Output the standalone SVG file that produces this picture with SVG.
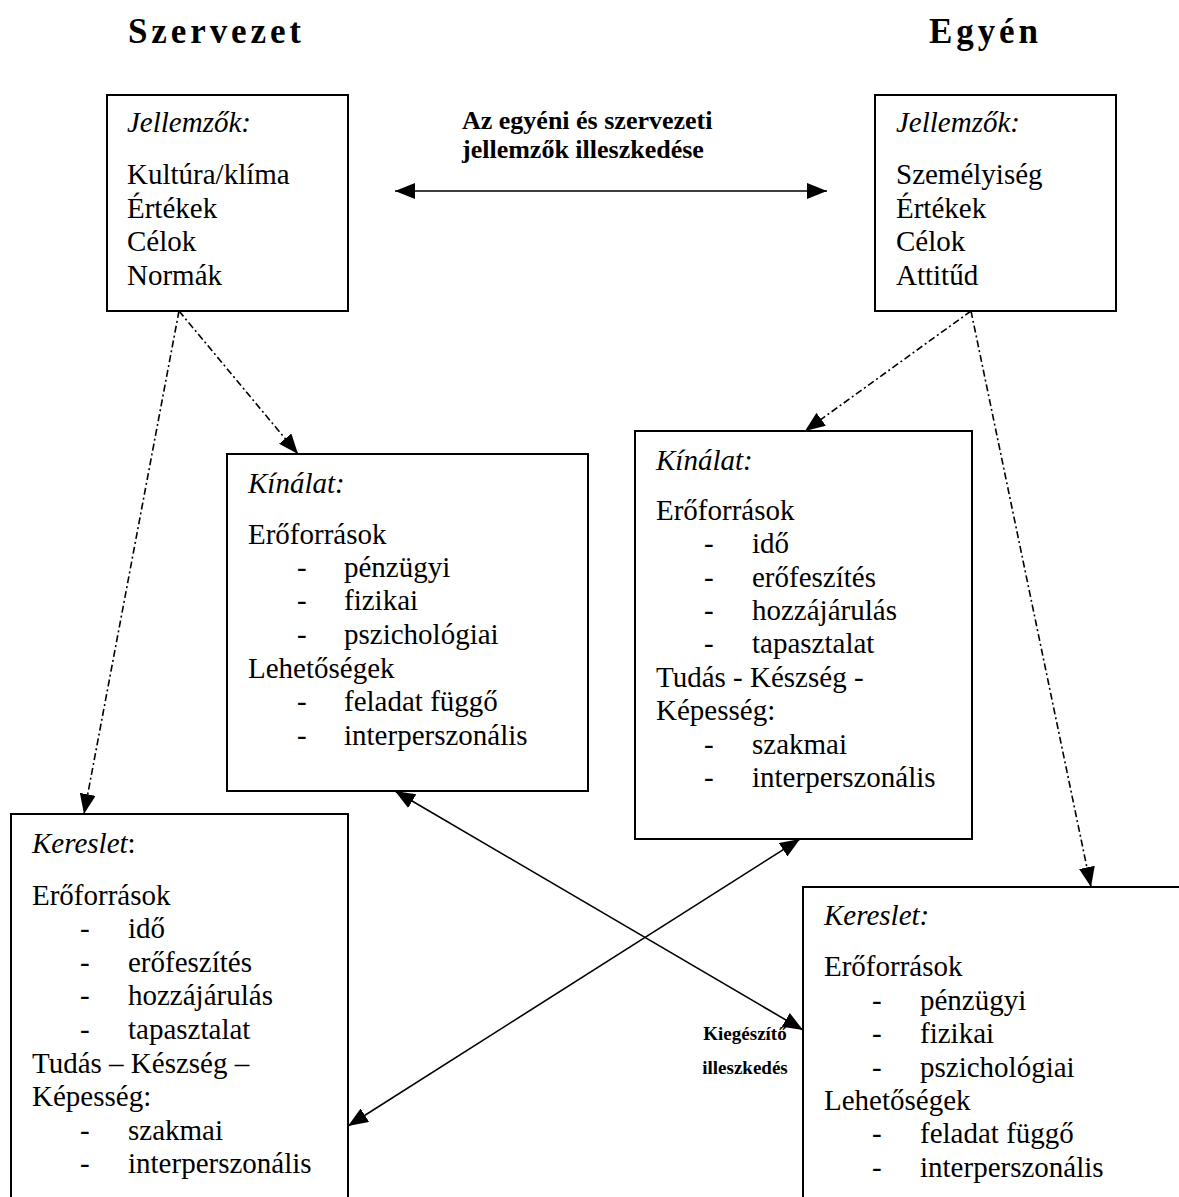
<svg xmlns="http://www.w3.org/2000/svg" width="1179" height="1197" viewBox="0 0 1179 1197">
  <style>
    text { font-family: "Liberation Serif", "Times New Roman", serif; fill: #000; }
    .title { font-size: 35px; font-weight: bold; letter-spacing: 3.9px; }
    .body { font-size: 29px; }
    .head { font-size: 29px; font-style: italic; }
    .label { font-size: 26px; font-weight: bold; }
    .small { font-size: 19px; font-weight: bold; text-anchor: middle; }
    .box { fill: #fff; stroke: #000; stroke-width: 2; }
    .solid { fill: none; stroke: #000; stroke-width: 1.6; }
    .dashdot { fill: none; stroke: #000; stroke-width: 1.6; stroke-dasharray: 7 3 2 3; }
  </style>
  <defs>
    <marker id="arrow" viewBox="0 0 20 16" refX="20" refY="8" markerWidth="20" markerHeight="16" markerUnits="userSpaceOnUse" orient="auto-start-reverse">
      <path d="M0,0 L20,8 L0,16 Z" fill="#000"/>
    </marker>
  </defs>

  <!-- column titles -->
  <text class="title" x="128" y="43">Szervezet</text>
  <text class="title" x="929" y="43">Egyén</text>

  <!-- connectors -->
  <g id="connectors">
    <line class="solid" x1="395" y1="191" x2="827" y2="191" marker-start="url(#arrow)" marker-end="url(#arrow)"/>
    <line class="dashdot" x1="179" y1="311" x2="298" y2="454" marker-end="url(#arrow)"/>
    <line class="dashdot" x1="179" y1="311" x2="84" y2="814" marker-end="url(#arrow)"/>
    <line class="dashdot" x1="971" y1="311" x2="805" y2="431" marker-end="url(#arrow)"/>
    <line class="dashdot" x1="971" y1="311" x2="1091" y2="887" marker-end="url(#arrow)"/>
    <line class="solid" x1="395" y1="791" x2="803" y2="1030" marker-start="url(#arrow)" marker-end="url(#arrow)"/>
    <line class="solid" x1="800" y1="839" x2="348" y2="1126" marker-start="url(#arrow)" marker-end="url(#arrow)"/>
  </g>

  <!-- fit labels -->
  <g id="fit-label">
    <text class="label" x="462" y="129">Az egyéni és szervezeti</text>
    <text class="label" x="462" y="158">jellemzők illeszkedése</text>
  </g>
  <g id="complement-label">
    <text class="small" x="745" y="1040">Kiegészítő</text>
    <text class="small" x="745" y="1074">illeszkedés</text>
  </g>

  <!-- organisation characteristics -->
  <g id="org-traits">
    <rect class="box" x="107" y="95" width="241" height="216"/>
    <text class="head" x="127" y="132">Jellemzők:</text>
    <text class="body" x="127" y="184">Kultúra/klíma</text>
    <text class="body" x="127" y="218">Értékek</text>
    <text class="body" x="127" y="251">Célok</text>
    <text class="body" x="127" y="285">Normák</text>
  </g>

  <!-- individual characteristics -->
  <g id="ind-traits">
    <rect class="box" x="875" y="95" width="241" height="216"/>
    <text class="head" x="896" y="132">Jellemzők:</text>
    <text class="body" x="896" y="184">Személyiség</text>
    <text class="body" x="896" y="218">Értékek</text>
    <text class="body" x="896" y="251">Célok</text>
    <text class="body" x="896" y="285">Attitűd</text>
  </g>

  <!-- organisation supply -->
  <g id="org-supply">
    <rect class="box" x="227" y="454" width="361" height="337"/>
    <text class="head" x="248" y="493">Kínálat:</text>
    <text class="body" x="248" y="544">Erőforrások</text>
    <text class="body" x="297" y="577">-</text><text class="body" x="344" y="577">pénzügyi</text>
    <text class="body" x="297" y="610">-</text><text class="body" x="344" y="610">fizikai</text>
    <text class="body" x="297" y="644">-</text><text class="body" x="344" y="644">pszichológiai</text>
    <text class="body" x="248" y="678">Lehetőségek</text>
    <text class="body" x="297" y="711">-</text><text class="body" x="344" y="711">feladat függő</text>
    <text class="body" x="297" y="745">-</text><text class="body" x="344" y="745">interperszonális</text>
  </g>

  <!-- individual supply -->
  <g id="ind-supply">
    <rect class="box" x="635" y="431" width="337" height="408"/>
    <text class="head" x="656" y="470">Kínálat:</text>
    <text class="body" x="656" y="520">Erőforrások</text>
    <text class="body" x="704" y="553">-</text><text class="body" x="752" y="553">idő</text>
    <text class="body" x="704" y="587">-</text><text class="body" x="752" y="587">erőfeszítés</text>
    <text class="body" x="704" y="620">-</text><text class="body" x="752" y="620">hozzájárulás</text>
    <text class="body" x="704" y="653">-</text><text class="body" x="752" y="653">tapasztalat</text>
    <text class="body" x="656" y="687">Tudás - Készség -</text>
    <text class="body" x="656" y="720">Képesség:</text>
    <text class="body" x="704" y="754">-</text><text class="body" x="752" y="754">szakmai</text>
    <text class="body" x="704" y="787">-</text><text class="body" x="752" y="787">interperszonális</text>
  </g>

  <!-- organisation demand -->
  <g id="org-demand">
    <rect class="box" x="11" y="814" width="337" height="420"/>
    <text class="body" x="32" y="853"><tspan font-style="italic">Kereslet</tspan>:</text>
    <text class="body" x="32" y="905">Erőforrások</text>
    <text class="body" x="80" y="938">-</text><text class="body" x="128" y="938">idő</text>
    <text class="body" x="80" y="972">-</text><text class="body" x="128" y="972">erőfeszítés</text>
    <text class="body" x="80" y="1005">-</text><text class="body" x="128" y="1005">hozzájárulás</text>
    <text class="body" x="80" y="1039">-</text><text class="body" x="128" y="1039">tapasztalat</text>
    <text class="body" x="32" y="1073">Tudás – Készség –</text>
    <text class="body" x="32" y="1106">Képesség:</text>
    <text class="body" x="80" y="1140">-</text><text class="body" x="128" y="1140">szakmai</text>
    <text class="body" x="80" y="1173">-</text><text class="body" x="128" y="1173">interperszonális</text>
  </g>

  <!-- individual demand -->
  <g id="ind-demand">
    <rect class="box" x="803" y="887" width="400" height="340"/>
    <text class="head" x="824" y="925">Kereslet:</text>
    <text class="body" x="824" y="976">Erőforrások</text>
    <text class="body" x="872" y="1010">-</text><text class="body" x="920" y="1010">pénzügyi</text>
    <text class="body" x="872" y="1043">-</text><text class="body" x="920" y="1043">fizikai</text>
    <text class="body" x="872" y="1077">-</text><text class="body" x="920" y="1077">pszichológiai</text>
    <text class="body" x="824" y="1110">Lehetőségek</text>
    <text class="body" x="872" y="1143">-</text><text class="body" x="920" y="1143">feladat függő</text>
    <text class="body" x="872" y="1177">-</text><text class="body" x="920" y="1177">interperszonális</text>
  </g>
</svg>
